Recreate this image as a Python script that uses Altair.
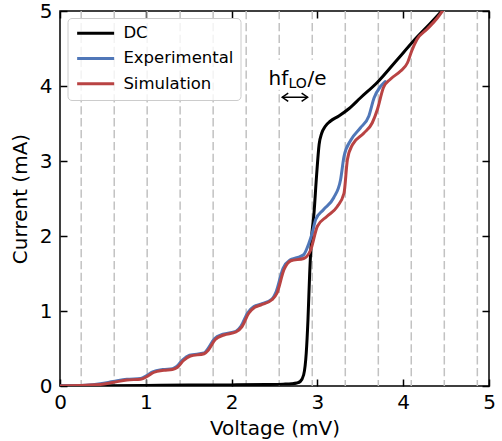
import altair as alt
import pandas as pd

# ---------------- data ----------------
series_names = ["DC", "Experimental", "Simulation"]
series_colors = ["#000000", "#5077b8", "#b94343"]

dc_v = [0.0, 0.5, 1.0, 1.5, 2.0, 2.4, 2.6, 2.7, 2.76, 2.8, 2.84, 2.87, 2.89, 2.91,
        2.93, 2.96, 2.99, 3.02, 3.05, 3.09, 3.15, 3.25, 3.37, 3.5, 3.7, 3.93,
        4.12, 4.32, 4.45]
dc_i = [0.0, 0.004, 0.008, 0.012, 0.015, 0.02, 0.025, 0.03, 0.04, 0.06, 0.15,
        0.44, 0.88, 1.5, 1.95, 2.3, 2.8, 3.22, 3.37, 3.46, 3.53, 3.6, 3.7, 3.84,
        4.05, 4.35, 4.6, 4.84, 5.0]

exp_v = [0.0, 0.3, 0.47, 0.62, 0.78, 0.94, 1.01, 1.08, 1.2, 1.31, 1.36, 1.43,
         1.51, 1.68, 1.72, 1.8, 1.9, 2.05, 2.11, 2.19, 2.26, 2.34, 2.47, 2.52,
         2.6, 2.68, 2.76, 2.84, 2.9, 2.94, 2.98, 3.07, 3.19, 3.27, 3.31, 3.39,
         3.5, 3.6, 3.66, 3.74, 3.79]
exp_i = [0.0, 0.01, 0.03, 0.06, 0.09, 0.1, 0.14, 0.19, 0.22, 0.23, 0.26, 0.35,
         0.41, 0.44, 0.49, 0.63, 0.69, 0.73, 0.8, 0.98, 1.06, 1.09, 1.16, 1.26,
         1.57, 1.68, 1.71, 1.75, 1.9, 2.04, 2.22, 2.35, 2.51, 2.75, 3.06, 3.28,
         3.44, 3.6, 3.84, 4.0, 4.06]

sim_v = [0.0, 0.3, 0.47, 0.63, 0.78, 0.94, 1.02, 1.09, 1.21, 1.31, 1.37, 1.44,
         1.52, 1.68, 1.73, 1.81, 1.91, 2.05, 2.12, 2.2, 2.27, 2.34, 2.47, 2.53,
         2.61, 2.69, 2.84, 2.92, 3.0, 3.11, 3.23, 3.31, 3.35, 3.41, 3.54, 3.64,
         3.7, 3.77, 3.85, 3.97, 4.05, 4.1, 4.16, 4.28, 4.4, 4.47]
sim_i = [0.0, 0.01, 0.02, 0.05, 0.08, 0.09, 0.13, 0.18, 0.21, 0.22, 0.25, 0.34,
         0.4, 0.43, 0.48, 0.62, 0.68, 0.72, 0.79, 0.97, 1.05, 1.08, 1.15, 1.24,
         1.55, 1.67, 1.7, 1.81, 2.13, 2.26, 2.39, 2.57, 3.02, 3.22, 3.37, 3.51,
         3.69, 3.98, 4.09, 4.2, 4.31, 4.47, 4.62, 4.76, 4.91, 5.02]

# photon-step voltages (dashed lines)
step_v = [0.247, 0.632, 1.016, 1.4, 1.785, 2.17, 2.555, 2.94, 3.325, 3.71,
          4.094, 4.479, 4.864]

x_ticks = [0, 1, 2, 3, 4, 5]
y_ticks = [0, 1, 2, 3, 4, 5]

annot_parts = ["hf", "LO", "/e"]

# ---------------- tables ----------------
rows = []
for name, vs, cs in zip(series_names, [dc_v, exp_v, sim_v], [dc_i, exp_i, sim_i]):
    for k, (v, c) in enumerate(zip(vs, cs)):
        rows.append({"series": name, "V": v, "I": c, "k": k})
curves = pd.DataFrame(rows)
steps = pd.DataFrame({"V": step_v})

FONT = "DejaVu Sans"
xs = alt.Scale(domain=[0, 5], nice=False, zero=False)
ys = alt.Scale(domain=[0, 5], nice=False, zero=False)

inward = dict(offset=-7, tickSize=7, domain=False, grid=False,
              labelFlush=False, labelOverlap=False)

# dashed step lines (+ top axis ticks)
rules = alt.Chart(steps).mark_rule(
    color="#c2c2c2", strokeWidth=1.5, strokeDash=[8.3, 3.6]
).encode(
    x=alt.X("V:Q", scale=xs,
            axis=alt.Axis(orient="top", values=x_ticks, labels=False, title=None, **inward))
)

# white box behind annotation text (+ right axis ticks)
box = alt.Chart(pd.DataFrame({"x0": [2.39], "x1": [3.17], "y0": [3.95], "y1": [4.35]})).mark_rect(
    color="white"
).encode(
    x=alt.X("x0:Q", scale=xs, axis=None), x2="x1:Q",
    y=alt.Y("y0:Q", scale=ys,
            axis=alt.Axis(orient="right", values=y_ticks, labels=False, title=None, **inward)),
    y2="y1:Q",
)

lines = alt.Chart(curves).mark_line(
    strokeWidth=3, interpolate="monotone", clip=True, strokeJoin="round", strokeCap="round"
).encode(
    x=alt.X("V:Q", scale=xs,
            axis=alt.Axis(orient="bottom", values=x_ticks, format="d", labelPadding=6,
                          title="Voltage (mV)", titlePadding=6, **inward)),
    y=alt.Y("I:Q", scale=ys,
            axis=alt.Axis(orient="left", values=y_ticks, format="d", labelPadding=8,
                          title="Current (mA)", titlePadding=9, **inward)),
    color=alt.Color("series:N",
                    scale=alt.Scale(domain=series_names, range=series_colors),
                    sort=series_names,
                    legend=alt.Legend(
                        orient="none", legendX=7.5, legendY=7, title=None,
                        symbolType="M-4,0L4,0", symbolSize=85.6, symbolStrokeWidth=3,
                        symbolOffset=12.9,
                        labelFont=FONT, labelFontSize=16.5, labelOffset=19.5,
                        labelColor="black", padding=7, rowPadding=8.2,
                        fillColor="rgba(255,255,255,0.8)", strokeColor="#cccccc",
                        cornerRadius=4)),
    order="k:Q",
)

def part(label, x, y, size):
    return alt.Chart(pd.DataFrame({"t": [label], "x": [x], "y": [y]})).mark_text(
        font=FONT, fontSize=size, align="left", baseline="alphabetic", color="black"
    ).encode(x=alt.X("x:Q", scale=xs, axis=None), y=alt.Y("y:Q", scale=ys, axis=None), text="t:N")

t1 = part(annot_parts[0], 2.43, 4.013, 20)
t2 = part(annot_parts[1], 2.664, 3.98, 14)
t3 = part(annot_parts[2], 2.885, 4.013, 20)

arrow = alt.Chart(pd.DataFrame({"a": [2.59], "b": [2.886], "y": [3.85]})).mark_rule(
    color="black", strokeWidth=1.5
).encode(x=alt.X("a:Q", scale=xs, axis=None), x2="b:Q", y=alt.Y("y:Q", scale=ys, axis=None))

head_l = alt.Chart(pd.DataFrame({"x": [2.59], "y": [3.85]})).mark_point(
    shape="M1,-0.7L0,0L1,0.7", size=144, filled=False, strokeWidth=1.5, color="black", opacity=1
).encode(x=alt.X("x:Q", scale=xs, axis=None), y=alt.Y("y:Q", scale=ys, axis=None))
head_r = alt.Chart(pd.DataFrame({"x": [2.886], "y": [3.85]})).mark_point(
    shape="M-1,-0.7L0,0L-1,0.7", size=144, filled=False, strokeWidth=1.5, color="black", opacity=1
).encode(x=alt.X("x:Q", scale=xs, axis=None), y=alt.Y("y:Q", scale=ys, axis=None))

chart = alt.layer(rules, box, lines, t1, t2, t3, arrow, head_l, head_r).resolve_axis(
    x="independent", y="independent"
).properties(
    width=429, height=375,
    autosize=alt.AutoSizeParams(type="none"),
    padding={"left": 60, "top": 11, "right": 13, "bottom": 55},
).configure_axis(
    labelFont=FONT, titleFont=FONT, labelFontSize=20, titleFontSize=20,
    titleFontWeight="normal", labelColor="black", titleColor="black",
    tickColor="black", tickWidth=1.5,
).configure_view(stroke="black", strokeWidth=1.5)

chart.save("out.html", embed_options={"renderer": "svg", "actions": False})
